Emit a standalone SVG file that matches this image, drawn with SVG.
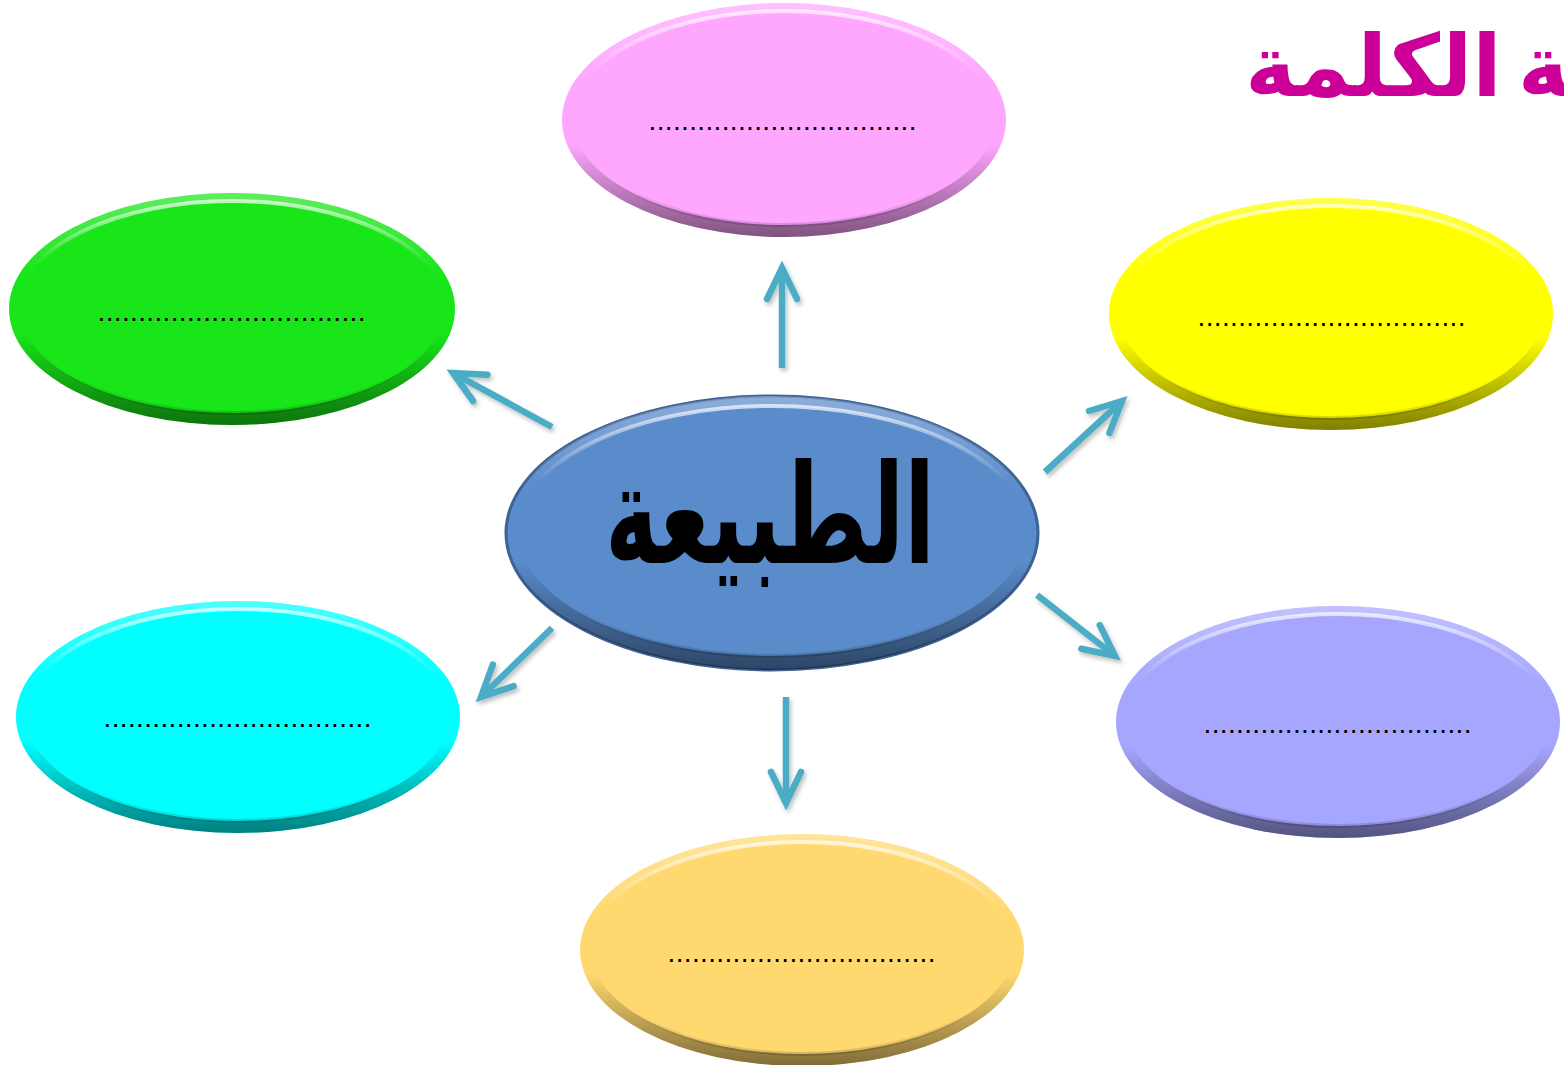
<svg xmlns="http://www.w3.org/2000/svg" width="1564" height="1065" viewBox="0 0 1564 1065">
<defs>
<linearGradient id="shade" x1="0" y1="0" x2="0" y2="1">
<stop offset="0" stop-color="#fff" stop-opacity="0.3"/>
<stop offset="0.35" stop-color="#fff" stop-opacity="0"/>
<stop offset="0.6" stop-color="#000" stop-opacity="0"/>
<stop offset="1" stop-color="#000" stop-opacity="0.5"/>
</linearGradient>
<linearGradient id="hl" x1="0" y1="0" x2="0" y2="1">
<stop offset="0" stop-color="#fff" stop-opacity="0.7"/>
<stop offset="0.3" stop-color="#fff" stop-opacity="0"/>
<stop offset="0.8" stop-color="#000" stop-opacity="0"/>
<stop offset="1" stop-color="#000" stop-opacity="0.15"/>
</linearGradient>
<filter id="sh" x="-20%" y="-20%" width="140%" height="140%">
<feDropShadow dx="2" dy="3" stdDeviation="2" flood-color="#000" flood-opacity="0.25"/>
</filter>
<marker id="ah" markerUnits="userSpaceOnUse" orient="auto" refX="0" refY="0" markerWidth="10" markerHeight="10" overflow="visible">
<path d="M-31,-15 L0,0 L-31,15" fill="none" stroke="#4BACC6" stroke-width="6.5" stroke-linecap="round" stroke-linejoin="miter"/>
</marker>
</defs>
<style>
.rim{stroke:none}
.shade{fill:url(#shade)}
.hl{fill:none;stroke:url(#hl);stroke-width:4}
.dots{font-family:"Liberation Sans",Arial,sans-serif;font-size:28px;letter-spacing:0.35px;fill:#000}
.pink .rim,.pink .face{fill:#FFA6FF}
.green .rim,.green .face{fill:#19E619}
.yellow .rim,.yellow .face{fill:#FFFF00}
.cyan .rim,.cyan .face{fill:#00FFFF}
.lav .rim,.lav .face{fill:#A6A6FF}
.orange .rim,.orange .face{fill:#FFD970}
.blue .rim,.blue .face{fill:#5A8BCB}
.blue .rim{stroke:#3D6396;stroke-width:3}
.arrow{stroke:#4BACC6;stroke-width:6.5;fill:none;marker-end:url(#ah)}
.title{font-family:"DejaVu Sans",sans-serif;font-weight:bold;fill:#CC0099}
.center{font-family:"DejaVu Sans",sans-serif;font-weight:bold;fill:#000}
</style>
<rect width="1564" height="1065" fill="#fff"/>

<g id="connectors" filter="url(#sh)">
<line class="arrow" x1="782" y1="368" x2="782" y2="268"/>
<line class="arrow" x1="552" y1="427" x2="453" y2="373"/>
<line class="arrow" x1="1045" y1="472" x2="1122" y2="401"/>
<line class="arrow" x1="1037" y1="595" x2="1115" y2="656"/>
<line class="arrow" x1="552" y1="628" x2="481" y2="697"/>
<line class="arrow" x1="786" y1="697" x2="786" y2="803"/>
</g>

<g id="node-top" class="pink">
<ellipse class="rim" cx="784" cy="120" rx="222" ry="117"/>
<ellipse class="shade" cx="784" cy="120" rx="222" ry="117"/>
<ellipse class="face" cx="784" cy="118" rx="212" ry="107"/>
<ellipse class="hl" cx="784" cy="118" rx="212" ry="107"/>
<text class="dots" x="648.5" y="130">.................................</text>
</g>

<g id="node-upper-left" class="green">
<ellipse class="rim" cx="232" cy="309" rx="223" ry="116"/>
<ellipse class="shade" cx="232" cy="309" rx="223" ry="116"/>
<ellipse class="face" cx="232" cy="307" rx="213" ry="106"/>
<ellipse class="hl" cx="232" cy="307" rx="213" ry="106"/>
<text class="dots" x="97.5" y="320.5">.................................</text>
</g>

<g id="node-upper-right" class="yellow">
<ellipse class="rim" cx="1331" cy="314" rx="222" ry="116"/>
<ellipse class="shade" cx="1331" cy="314" rx="222" ry="116"/>
<ellipse class="face" cx="1331" cy="312" rx="212" ry="106"/>
<ellipse class="hl" cx="1331" cy="312" rx="212" ry="106"/>
<text class="dots" x="1197.5" y="325.5">.................................</text>
</g>

<g id="node-lower-left" class="cyan">
<ellipse class="rim" cx="238" cy="717" rx="222" ry="116"/>
<ellipse class="shade" cx="238" cy="717" rx="222" ry="116"/>
<ellipse class="face" cx="238" cy="715" rx="212" ry="106"/>
<ellipse class="hl" cx="238" cy="715" rx="212" ry="106"/>
<text class="dots" x="103.5" y="727">.................................</text>
</g>

<g id="node-lower-right" class="lav">
<ellipse class="rim" cx="1338" cy="722" rx="222" ry="116"/>
<ellipse class="shade" cx="1338" cy="722" rx="222" ry="116"/>
<ellipse class="face" cx="1338" cy="720" rx="212" ry="106"/>
<ellipse class="hl" cx="1338" cy="720" rx="212" ry="106"/>
<text class="dots" x="1203.5" y="733">.................................</text>
</g>

<g id="node-bottom" class="orange">
<ellipse class="rim" cx="802" cy="950" rx="222" ry="116"/>
<ellipse class="shade" cx="802" cy="950" rx="222" ry="116"/>
<ellipse class="face" cx="802" cy="948" rx="212" ry="106"/>
<ellipse class="hl" cx="802" cy="948" rx="212" ry="106"/>
<text class="dots" x="667.5" y="962">.................................</text>
</g>

<g id="node-center" class="blue">
<ellipse class="rim" cx="772" cy="533" rx="266" ry="137"/>
<ellipse class="shade" cx="772" cy="533" rx="266" ry="137"/>
<ellipse class="face" cx="772" cy="531" rx="254" ry="125"/>
<ellipse class="hl" cx="772" cy="531" rx="254" ry="125"/>
<text class="center" x="770" y="563" text-anchor="middle" font-size="138" textLength="330" lengthAdjust="spacingAndGlyphs">الطبيعة</text>
</g>

<g id="title">
<text class="title" x="1245" y="96" font-size="86" word-spacing="-14">&#x200D;ة الكلمة</text>
</g>
</svg>
